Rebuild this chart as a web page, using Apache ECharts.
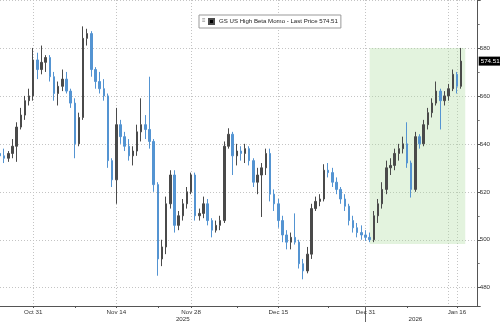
<!DOCTYPE html>
<html><head><meta charset="utf-8">
<script src="https://cdn.jsdelivr.net/npm/echarts@6/dist/echarts.min.js"></script>
<style>html,body{margin:0;padding:0;background:#fff}#c{width:500px;height:322px}</style>
</head><body><div id="c"></div>
<script>
// ---- data (two bars per trading day, one on half days) ----
const days = ['Oct 27','Oct 28','Oct 29','Oct 30','Oct 31',
  'Nov 3','Nov 4','Nov 5','Nov 6','Nov 7','Nov 10','Nov 11','Nov 12','Nov 13','Nov 14',
  'Nov 17','Nov 18','Nov 19','Nov 20','Nov 21','Nov 24','Nov 25','Nov 26','Nov 28',
  'Dec 1','Dec 2','Dec 3','Dec 4','Dec 5','Dec 8','Dec 9','Dec 10','Dec 11','Dec 12',
  'Dec 15','Dec 16','Dec 17','Dec 18','Dec 19','Dec 22','Dec 23','Dec 24','Dec 26',
  'Dec 29','Dec 30','Dec 31','Jan 2','Jan 5','Jan 6','Jan 7','Jan 8','Jan 9',
  'Jan 12','Jan 13','Jan 14','Jan 15','Jan 16'];
const halfDays = ['Nov 28','Dec 24'];
const padCats = ['p1','p2','p3','p4'];

const opens = [536,535,534,536,539,547,552,558,560,575, 571,574,576,568,561,564,567,562,557,540,
  551,584,586,571,566,563,560,533,525,548, 543,539,535,537,545,548,546,541,523,492,
  497,515,527,506,510,515,520,527,510,511, 515,508,504,506,508,539,544,535,537,536,
  538,533,524,527,530,536,519,515,508,502, 499,501,499,490,487,494,513,516,517,529,
  528,524,521,517,514,508,505,503,502,501, 500,510,515,521,530,531,536,538,540,532,
  521,543,540,548,553,557,562,558,560,563, 569,564];
const highs = [544.5,538,537,542,549,555,560,563,580,578, 581,577,577,570,566,571,570,563,559,553,
  589,588,587,572,570,567,561,534,555,550, 545,542,539,548,559,552,568,542,524,500,
  518,529,529,512,517,522,528,528,513,518, 517,509,508,510,541,546.5,545,540,539,540,
  539,534,530,532,538,538,521,517,510,504, 503,511,500,492,497,515,518,519,531.5,532,
  530,526,522,519,515,510,507,506,504,503, 512,517,524,533,534,538,540,543,549,533,
  545,544,550,555,559,566,563,562,565,571, 570,580];
const lows = [533,532,532.5,534,532.5,546,550,556,558,567, 569,570,566,558,556,562,561,555,534,539,
  550,581,568,563,561,558,530,522,515,540, 537,533,531,535,541,542,538,520,485,489,
  494,513,503,504,508,513,519,508,508,509, 506,501,503,504,507,538,527,531,533,532,
  531,522,519,509.5,527,516,512,505,499,496, 496,498,488,483.5,486,492,512,514,516,526,
  522,519,515,512,506,503,501,500,499.5,499, 499,507,513,519,527,529,533,536,530,517.6,
  520,538,539,546,551,556,546,556,558,562, 561,563];
const closes = [535,534,536,539,547,552,558,560,575,571, 574,576,568,561,564,567,562,557,540,551,
  584,586,571,566,563,560,533,525,548,543, 539,535,537,545,548,546,541,523,492,497,
  515,527,506,510,515,520,527,510,511,515, 508,504,506,508,539,544,535,537,536,538,
  533,524,527,530,536,519,515,508,502,499, 501,499,490,487,494,513,516,517,529,528,
  524,521,517,514,508,505,503,502,501,500, 510,515,521,530,531,536,538,540,532,521,
  543,540,548,553,557,562,558,560,563,569, 564,574.51];

const dateTicks = ['Oct 31','Nov 14','Nov 28','Dec 15','Dec 31','Jan 16'];
const extraGridDates = ['Jan 15'];
const minorTickDates = ['Nov 7','Nov 21','Dec 8','Dec 23','Jan 8'];
const yearLabels = {'Nov 26':'2025','Jan 9':'2026'};
const yearBreak = 'Dec 31';
const yTickLabels = [480,500,520,540,560,580];
const lastPrice = 574.51;
const seriesName = 'GS US High Beta Momo - Last Price 574.51';
const highlight = {from:'Dec 31 PM', to:'p1', low:498.2, high:580};

// ---- build ----
const cats = [];
days.forEach(d => { cats.push(d); if (!halfDays.includes(d)) cats.push(d + ' PM'); });
padCats.forEach(p => cats.push(p));
const candles = opens.map((o,i) => [o, closes[i], lows[i], highs[i]]);

const FONT = 'Liberation Sans';
const chart = echarts.init(document.getElementById('c'));
chart.setOption({
  animation: false,
  backgroundColor: '#fff',
  grid: {left: 0, right: 22.3, top: -2.8, bottom: 15.3},
  legend: {
    left: 199, top: 15,
    data: [{name: seriesName, icon: 'rect', itemStyle: {color: '#000'}}],
    itemWidth: 5, itemHeight: 5,
    padding: [3, 3, 3, 9],
    borderColor: '#999', borderWidth: 1, backgroundColor: '#fff',
    textStyle: {fontSize: 6.1, color: '#222', fontFamily: FONT},
    selectedMode: false
  },
  graphic: [{type: 'text', left: 202, top: 17.5, z: 100,
    style: {text: '≡', fontSize: 6, fill: '#777', fontFamily: FONT}}],
  xAxis: [{
    type: 'category', data: cats, boundaryGap: false,
    axisLine: {lineStyle: {color: '#555', width: 1}},
    axisTick: {show: true, length: 2, lineStyle: {color: '#555'},
      interval: (i, v) => dateTicks.includes(v) || minorTickDates.includes(v)},
    axisLabel: {interval: (i, v) => dateTicks.includes(v), fontSize: 6.2, color: '#333',
      fontFamily: FONT, margin: 3},
    splitLine: {show: true, interval: (i, v) => dateTicks.includes(v) || extraGridDates.includes(v),
      lineStyle: {color: '#c4c4c4', type: [1, 2], width: 1}}
  }, {
    type: 'category', data: cats, boundaryGap: false, position: 'bottom',
    axisLine: {show: false},
    axisTick: {show: true, length: 16, lineStyle: {color: '#666'}, interval: (i, v) => v === yearBreak},
    axisLabel: {interval: (i, v) => v in yearLabels, formatter: v => yearLabels[v] || '',
      fontSize: 6.2, color: '#333', fontFamily: FONT, margin: 10},
    splitLine: {show: false}
  }],
  yAxis: {
    type: 'value', position: 'right', min: 472.37, max: 600, splitNumber: 6, scale: true,
    axisLine: {show: true, lineStyle: {color: '#555'}},
    axisTick: {show: true, length: 3, lineStyle: {color: '#555'}},
    minorTick: {show: true, splitNumber: 2, length: 2, lineStyle: {color: '#777'}},
    axisLabel: {showMinLabel: false, showMaxLabel: false, fontSize: 6.2, color: '#333', fontFamily: FONT, margin: 2,
      formatter: v => yTickLabels.includes(Math.round(v * 100) / 100) ? String(v) : ''},
    splitLine: {show: true, lineStyle: {color: '#c4c4c4', type: [1, 2], width: 1}}
  },
  series: [{
    name: seriesName, type: 'candlestick', data: candles, barWidth: 2,
    itemStyle: {color: '#4a4a4a', color0: '#5494d2', borderColor: '#4a4a4a', borderColor0: '#5494d2', borderWidth: 1},
    markArea: {silent: true,
      itemStyle: {color: 'rgba(175,222,160,0.35)'},
      data: [[{xAxis: highlight.from, yAxis: highlight.low}, {xAxis: highlight.to, yAxis: highlight.high}]]},
    markLine: {silent: true, symbol: ['none', 'none'],
      lineStyle: {color: 'rgba(0,0,0,0)', width: 0},
      label: {show: true, position: 'end', formatter: lastPrice.toFixed(2), backgroundColor: '#000', color: '#fff',
        fontSize: 6.2, fontFamily: FONT, padding: [2, 2, 1, 2], distance: 1},
      data: [{yAxis: lastPrice}]}
  }]
});
</script></body></html>
